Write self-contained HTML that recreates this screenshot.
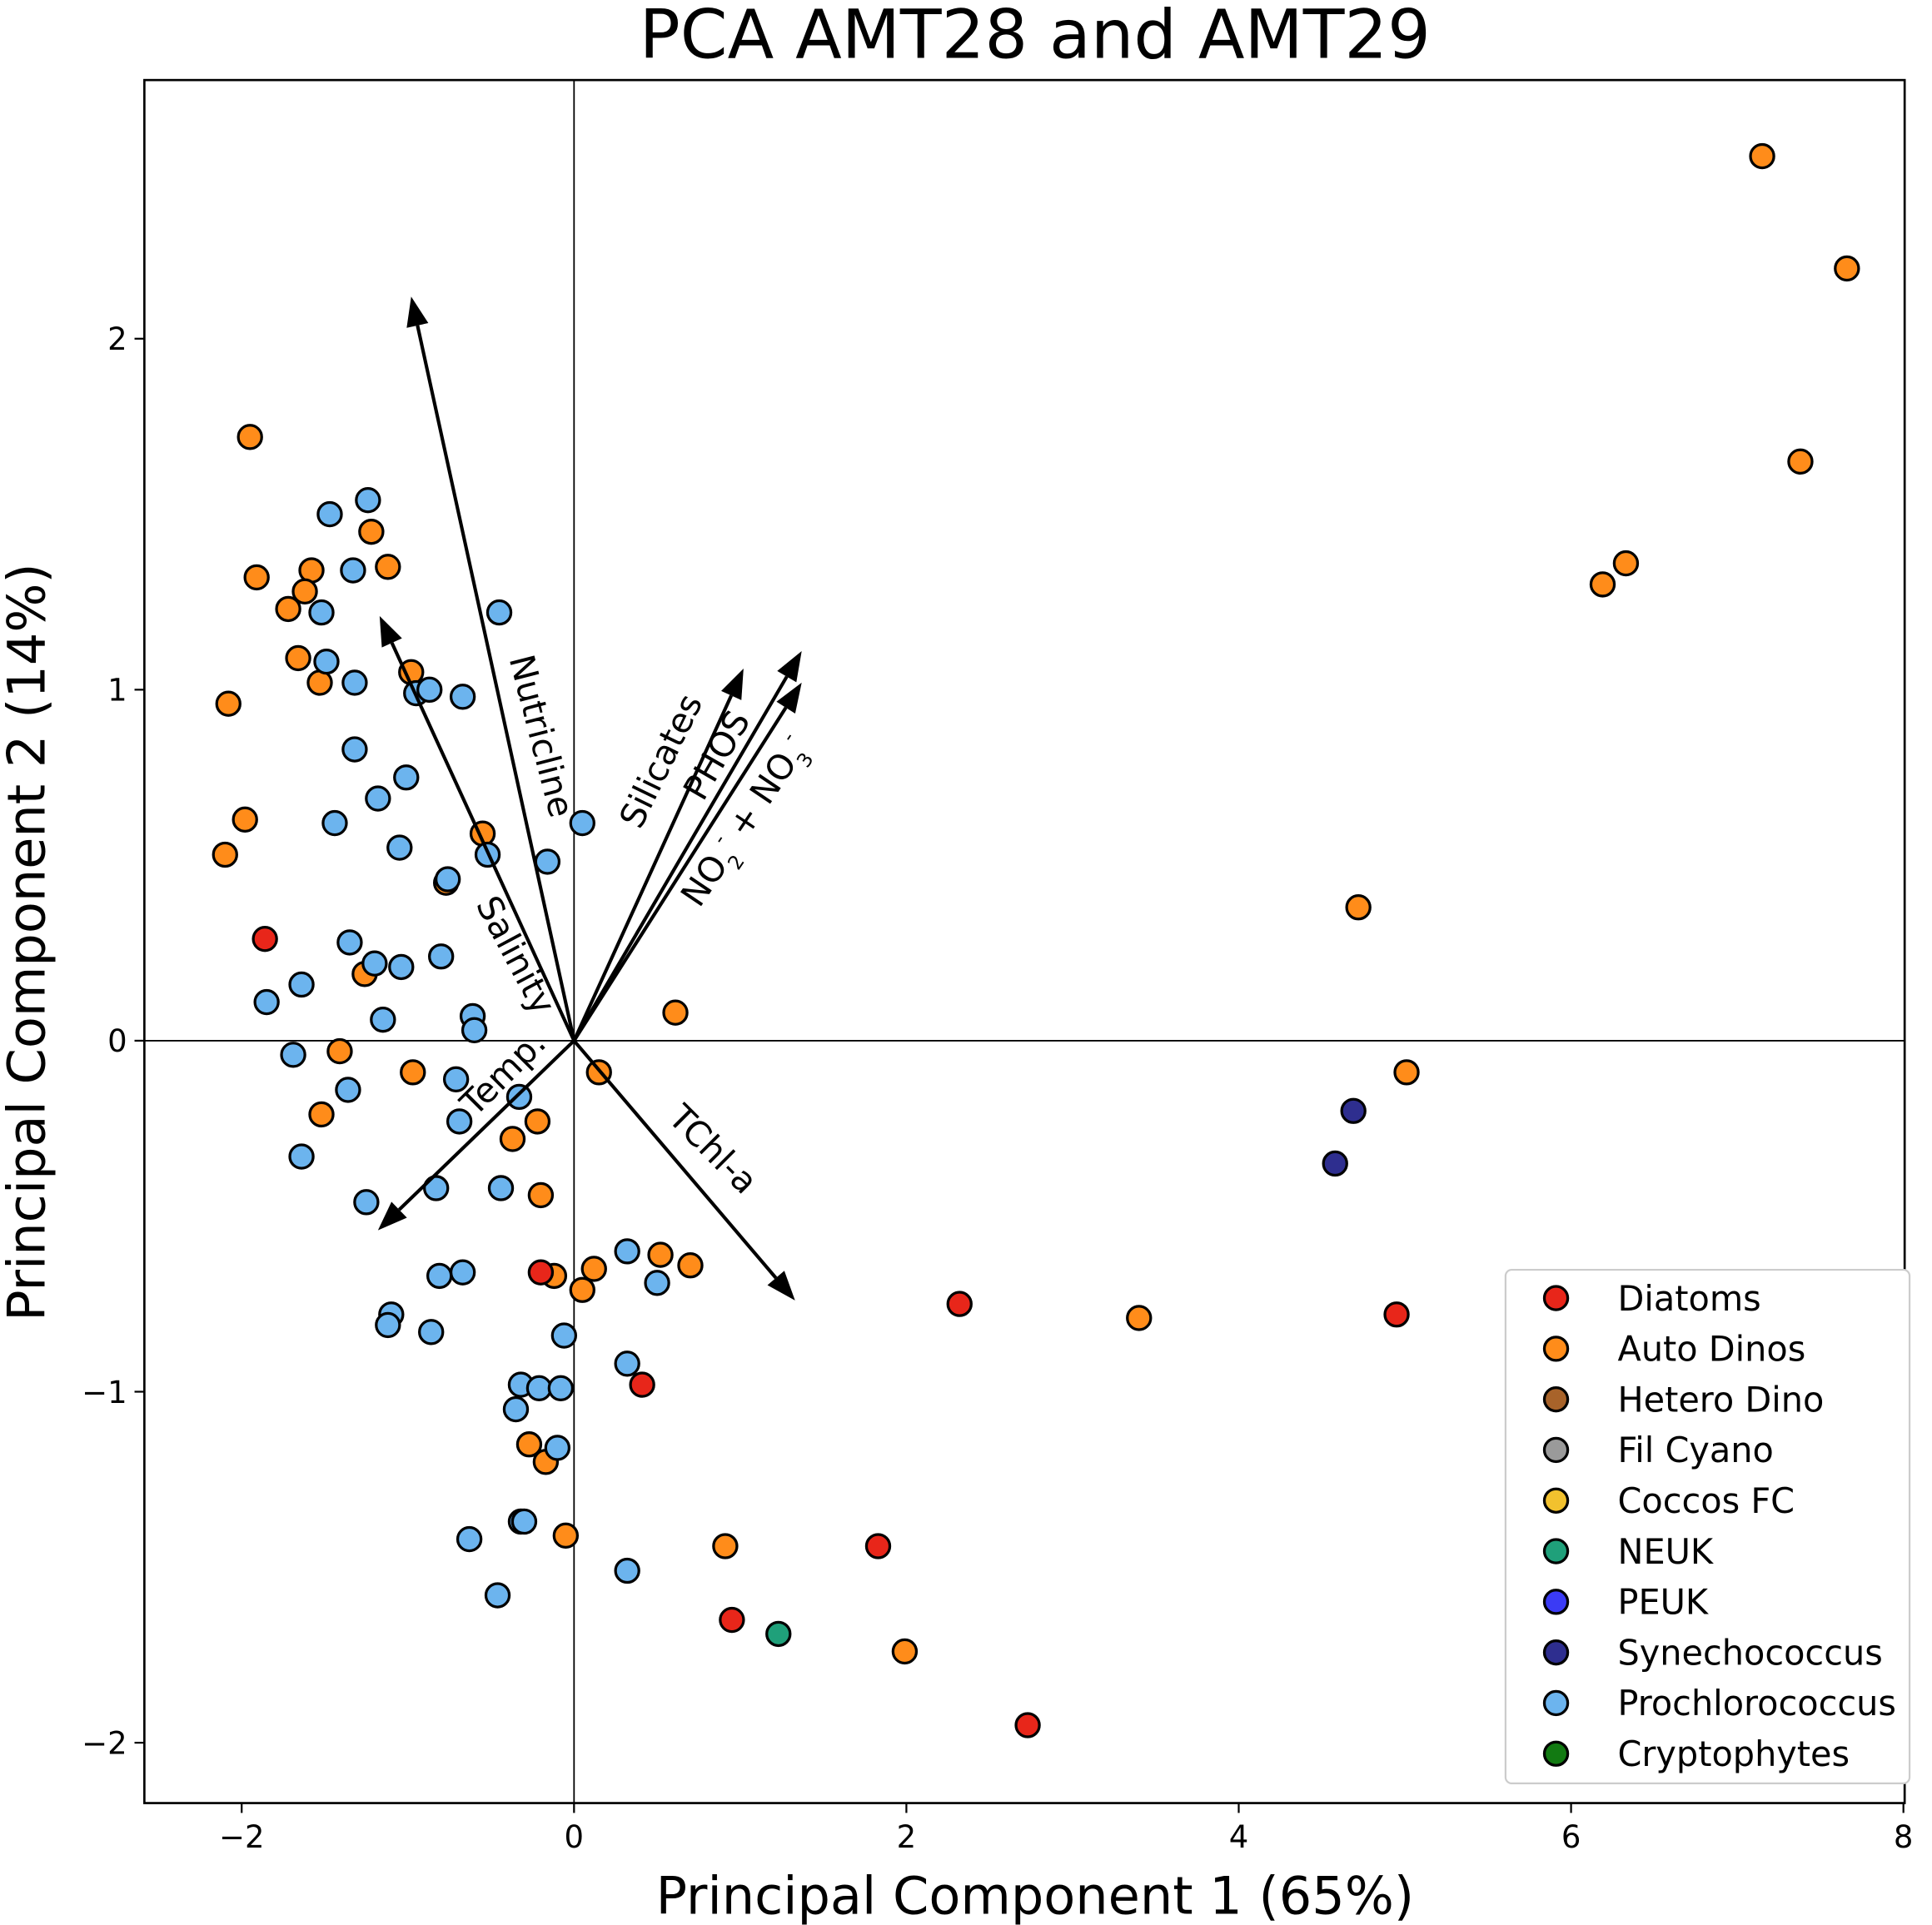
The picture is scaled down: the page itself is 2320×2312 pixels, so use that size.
<!DOCTYPE html>
<html><head><meta charset="utf-8"><style>
html,body{margin:0;padding:0;background:#fff;}
svg{display:block;font-family:"DejaVu Sans","Liberation Sans",sans-serif;}
</style></head><body>
<svg id="chart" width="2320" height="2312" viewBox="0 0 1568 1563" xmlns="http://www.w3.org/2000/svg">
<rect width="1568" height="1563" fill="#fff"/>
<text x="840" y="47" font-size="55" text-anchor="middle">PCA AMT28 and AMT29</text>
<g id="plot"></g>
<text x="840" y="1554" font-size="42" text-anchor="middle">Principal Component 1 (65%)</text>
<text transform="translate(36,765) rotate(-90)" font-size="42" text-anchor="middle">Principal Component 2 (14%)</text>
</svg>
<script>
const xTicks=[-2,0,2,4,6,8];
const yTicks=[-2,-1,0,1,2];
const groups=["Diatoms","Auto Dinos","Hetero Dino","Fil Cyano","Coccos FC","NEUK","PEUK","Synechococcus","Prochlorococcus","Cryptophytes"];
const groupColors=["#e8261a","#ff8c1a","#a8632a","#9a9a9a","#f2c12e","#1fa07a","#3b3bf5","#2e2e8f","#6cb4ee","#127a12"];
const diatomsX=[-1.86,2.32,4.95,0.41,-0.20,1.83,0.95,2.73];
const diatomsY=[0.29,-0.75,-0.78,-0.98,-0.66,-1.44,-1.65,-1.95];
const dinosX=[7.15,7.66,7.38,6.33,6.19,4.72,5.01,3.40,-1.95,-1.91,-1.58,-1.62,-1.72,-1.66,-1.53,-2.08,-1.98,-2.10,-1.22,-1.12,-0.98,-0.55,-0.77,-1.26,-1.41,-0.97,-1.52,-0.37,-0.22,-0.20,0.61,0.15,0.12,-0.12,0.05,0.52,0.70,-0.27,-0.17,-0.05,0.91,1.99];
const dinosY=[2.52,2.20,1.65,1.36,1.30,0.38,-0.09,-0.79,1.72,1.32,1.34,1.28,1.23,1.09,1.02,0.96,0.63,0.53,1.45,1.35,1.05,0.59,0.45,0.19,-0.03,-0.09,-0.21,-0.28,-0.23,-0.44,0.08,-0.09,-0.65,-0.67,-0.71,-0.61,-0.64,-1.15,-1.20,-1.41,-1.44,-1.74];
const neukX=[1.23], neukY=[-1.69];
const synX=[4.69,4.58], synY=[-0.20,-0.35];
const proX=[-1.24,-1.47,-1.33,-1.52,-0.45,-1.49,-1.32,-0.95,-0.87,-0.67,-1.32,-1.01,-1.18,-1.44,0.05,-1.05,-0.52,-0.16,-0.76,-1.35,-1.20,-1.04,-0.80,-1.64,-1.85,-1.15,-0.61,-0.60,-1.69,-0.71,-0.33,-1.36,-0.69,-1.64,-1.25,-0.83,-0.44,-0.67,-0.81,0.32,0.50,-1.10,-1.12,-0.86,-0.06,0.32,-0.32,-0.21,-0.08,-0.35,-0.10,-0.32,-0.30,-0.63,0.32,-0.46];
const proY=[1.54,1.50,1.34,1.22,1.22,1.08,1.02,0.99,1.00,0.98,0.83,0.75,0.69,0.62,0.62,0.55,0.53,0.51,0.46,0.28,0.22,0.21,0.24,0.16,0.11,0.06,0.07,0.03,-0.04,-0.11,-0.16,-0.14,-0.23,-0.33,-0.46,-0.42,-0.42,-0.66,-0.67,-0.60,-0.69,-0.78,-0.81,-0.83,-0.84,-0.92,-0.98,-0.99,-0.99,-1.05,-1.16,-1.37,-1.37,-1.42,-1.51,-1.58];
const vecNames=["Nutricline","Salinity","Temp.","TChl-a","Silicates","PHOS","NO3"];
const vecX=[-0.98,-1.17,-1.18,1.33,1.02,1.37,1.37];
const vecY=[2.12,1.21,-0.54,-0.74,1.06,1.11,1.02];

const L=117,R=1546,T=65,B=1464;
const X=v=>465.8+v*134.9;
const Y=v=>845-v*285;
const NS="http://www.w3.org/2000/svg";
const g=document.getElementById('plot');
function mk(tag,attrs,parent){const e=document.createElementNS(NS,tag);for(const k in attrs)e.setAttribute(k,attrs[k]);(parent||g).appendChild(e);return e;}

let zl=mk('line',{x1:X(0),x2:X(0),y1:T,y2:B,stroke:'#000','stroke-width':1.2});


zl=mk('line',{x1:L,x2:R,y1:Y(0),y2:Y(0),stroke:'#000','stroke-width':1.2});



xTicks.forEach(t=>{
  const tk=mk('line',{x1:X(t),x2:X(t),y1:B,y2:B+8,stroke:'#000','stroke-width':1.5});
  
  
  const tx=mk('text',{x:X(t),y:B+36,'font-size':25,'text-anchor':'middle'});
  
  
  tx.textContent=t<0?'\u2212'+(-t):t;
});
yTicks.forEach(t=>{
  const tk=mk('line',{x1:L-8,x2:L,y1:Y(t),y2:Y(t),stroke:'#000','stroke-width':1.5});
  
  
  const tx=mk('text',{x:L-14,y:Y(t)+9,'font-size':25,'text-anchor':'end'});
  
  
  tx.textContent=t<0?'\u2212'+(-t):t;
});

function pts(xs,ys,ci,name){
  xs.forEach((x,i)=>{
    const c=mk('circle',{cx:X(x),cy:Y(ys[i]),r:9.5,fill:groupColors[ci],stroke:'#000','stroke-width':2.2});
    
    
  });
}
pts(dinosX,dinosY,1,'auto-dinos');
pts(proX,proY,8,'prochlorococcus');
pts(diatomsX,diatomsY,0,'diatoms');
pts(neukX,neukY,5,'neuk');
pts(synX,synY,7,'synechococcus');

vecX.forEach((vx,i)=>{
  const x0=X(0),y0=Y(0),x1=X(vx),y1=Y(vecY[i]);
  const dx=x1-x0,dy=y1-y0,len=Math.hypot(dx,dy),ux=dx/len,uy=dy/len;
  const hl=24,hw=9;
  const bx=x1-ux*hl,by=y1-uy*hl;
  const ln=mk('line',{x1:x0,y1:y0,x2:bx,y2:by,stroke:'#000','stroke-width':2.8});
  
  
  const hd=mk('polygon',{points:`${x1},${y1} ${bx-uy*hw},${by+ux*hw} ${bx+uy*hw},${by-ux*hw}`,fill:'#000'});
  
  
});
const labs=[
 {t:"Nutricline",x:430,y:600,a:75.5},
 {t:"Salinity",x:410,y:780,a:62},
 {t:"Temp.",x:415,y:878,a:-45},
 {t:"TChl-a",x:572,y:940,a:45},
 {t:"Silicates",x:545,y:622,a:-64},
 {t:"PHOS",x:590,y:618,a:-60}
];
labs.forEach(l=>{
  const tx=mk('text',{'font-size':28,'text-anchor':'middle',transform:`translate(${l.x},${l.y}) rotate(${l.a})`});
  
  
  tx.textContent=l.t;
});
const no=mk('text',{'font-size':28,'text-anchor':'middle',transform:'translate(612,672) rotate(-56)'});


no.innerHTML='NO<tspan font-size="16" dy="9">2</tspan><tspan font-size="16" dy="-22">-</tspan><tspan dy="13"> + NO</tspan><tspan font-size="16" dy="9">3</tspan><tspan font-size="16" dy="-22">-</tspan>';

const fr=mk('rect',{x:L,y:T,width:R-L,height:B-T,fill:'none',stroke:'#000','stroke-width':1.8});



const lg=mk('g',{});


mk('rect',{x:1222,y:1031,width:328,height:417,rx:5,fill:'#fff',stroke:'#ccc','stroke-width':1.5},lg);
groups.forEach((n,i)=>{
  const y=1054+i*41.1;
  const e=mk('g',{},lg);
  
  
  mk('circle',{cx:1263,cy:y,r:9.5,fill:groupColors[i],stroke:'#000','stroke-width':2.2},e);
  const t=mk('text',{x:1313,y:y+10,'font-size':28},e);
  t.textContent=n;
});
</script>
</body></html>
